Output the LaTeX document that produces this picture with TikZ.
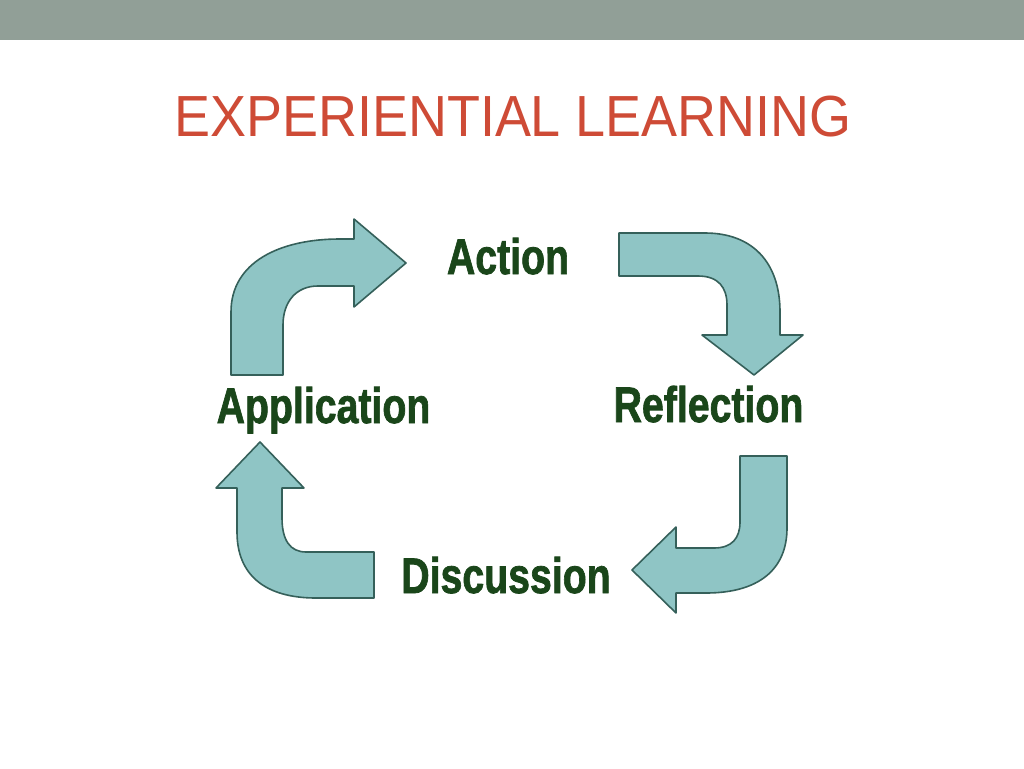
\documentclass[tikz,border=0pt]{standalone}
\usepackage{fontspec}
\setmainfont{Liberation Sans}
\newfontfamily\stagefont[FakeBold=1.6]{Liberation Sans Bold}
\usepackage{tikz}
\definecolor{barcol}{HTML}{919F97}
\definecolor{titlecol}{HTML}{CE4B36}
\definecolor{arrowfill}{HTML}{8FC5C5}
\definecolor{arrowline}{HTML}{35605A}
\definecolor{stagecol}{HTML}{1A461A}

\begin{document}
\begin{tikzpicture}[x=1pt, y=-1pt, bent/.style={fill=arrowfill, draw=arrowline, line width=1.6pt, line join=round}, stage/.style={font=\stagefont\fontsize{50}{50}\selectfont, text=stagecol, xscale=0.785, anchor=base, inner sep=0pt}]
		\fill[white] (0,0) rectangle (1024,768);
		\useasboundingbox (0,0) rectangle (1024,768);
		\fill[barcol] (0,0) rectangle (1024,40.5);
		\node[font=\fontsize{58}{58}\selectfont, text=titlecol, xscale=0.93, anchor=base, inner sep=0pt] (title) at (513,136) {EXPERIENTIAL LEARNING};
		% the four stages
		\node[stage] (act) at (508,274) {Action};
		\node[stage] (ref) at (708.5,422) {Reflection};
		\node[stage] (dis) at (506,593) {Discussion};
		\node[stage] (app) at (323.5,423) {Application};
		% bent arrows round the cycle
		\draw[bent] (231,375) -- (231,312) .. controls (231,262) and (280,239) .. (340,239) -- (354,239) -- (354,219) -- (406,263) -- (354,307) -- (354,286) -- (318,286) .. controls (296,286) and (283,302) .. (283,325) -- (283,375) -- cycle;
		\draw[bent] (619,233) -- (705,233) .. controls (752,233) and (780,262) .. (780,312) -- (780,335) -- (803,335) -- (754,375) -- (702,335) -- (727,335) -- (727,305) .. controls (727,287) and (718,276) .. (698,276) -- (619,276) -- cycle;
		\draw[bent] (740,456) -- (787,456) -- (787,528) .. controls (787,570) and (758,593) .. (706,593) -- (676,593) -- (676,613) -- (632,570) -- (676,527) -- (676,548) -- (714,548) .. controls (732,548) and (740,538) .. (740,522) -- cycle;
		\draw[bent] (374,552) -- (374,598) -- (316,598) .. controls (265,598) and (237,575) .. (237,532) -- (237,488) -- (216,488) -- (260,442) -- (304,488) -- (282,488) -- (282,518) .. controls (282,540) and (290,552) .. (306,552) -- cycle;
	\end{tikzpicture}
\end{document}
